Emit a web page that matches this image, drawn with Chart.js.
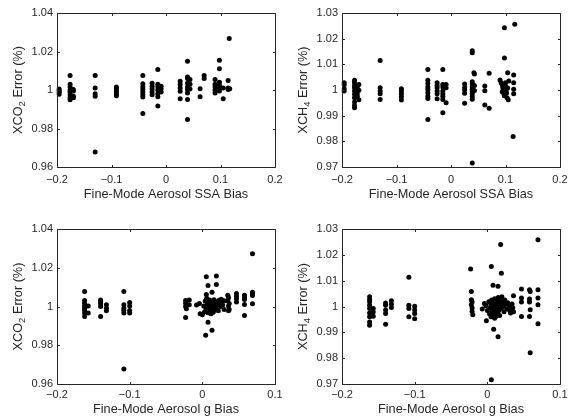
<!DOCTYPE html>
<html><head><meta charset="utf-8">
<script src="https://cdn.jsdelivr.net/npm/chart.js@4.4.1/dist/chart.umd.min.js"></script>
<style>
html,body{margin:0;padding:0;background:#fff}
#wrap{position:relative;width:570px;height:417px;overflow:hidden}
canvas{position:absolute}
</style>
</head><body>
<div id="wrap">
<canvas id="p1" style="left:0;top:0"></canvas>
<canvas id="p2" style="left:285px;top:0"></canvas>
<canvas id="p3" style="left:0;top:210px"></canvas>
<canvas id="p4" style="left:285px;top:210px"></canvas>
</div>
<script>
// ---- tick labels ----
const ssaTicks = [-0.2, -0.1, 0, 0.1, 0.2];
const gTicks = [-0.2, -0.1, 0, 0.1];
const co2Ticks = [0.96, 0.98, 1, 1.02, 1.04];
const ch4Ticks = [0.97, 0.98, 0.99, 1, 1.01, 1.02, 1.03];

// ---- axis titles (main text, subscript, rest) ----
const ssaTitle = 'Fine-Mode Aerosol SSA Bias';
const gTitle = 'Fine-Mode Aerosol g Bias';
const co2Title = ['XCO', '2', ' Error (%)'];
const ch4Title = ['XCH', '4', ' Error (%)'];

// ---- data: [bias, error] ----
const ssaCo2 = [
[-0.196,1.0005],[-0.196,0.9998],[-0.196,0.9988],[-0.196,0.9978],
[-0.176,1.0075],[-0.176,1.003],[-0.176,1.0015],[-0.176,1.0],[-0.176,0.999],[-0.176,0.9975],[-0.176,0.996],[-0.176,0.995],
[-0.170,1.0003],[-0.170,0.9995],[-0.170,0.9968],[-0.170,0.996],
[-0.130,1.0075],[-0.130,1.0011],[-0.130,0.998],[-0.130,0.9968],[-0.130,0.9678],
[-0.091,1.0015],[-0.091,1.0006],[-0.091,0.9994],[-0.091,0.998],[-0.091,0.997],
[-0.0425,1.0075],[-0.0425,1.0032],[-0.0425,1.0016],[-0.0425,1.0002],[-0.0425,0.9989],[-0.0425,0.9977],[-0.0425,0.9963],[-0.0425,0.9878],
[-0.0255,1.0035],[-0.0255,1.002],[-0.0255,1.0005],[-0.0255,0.999],[-0.0255,0.9975],
[-0.015,1.0106],[-0.015,1.003],[-0.015,1.0015],[-0.015,1.0],[-0.015,0.998],[-0.015,0.9965],[-0.015,0.9917],
[-0.009,1.002],[-0.009,1.0005],[-0.009,0.999],
[0.026,1.0046],[0.026,1.0029],[0.026,1.0011],[0.026,0.9994],[0.026,0.9954],
[0.0395,1.015],[0.0395,1.0068],[0.0395,1.006],[0.0395,1.0037],[0.0395,1.0016],[0.0395,1.0002],[0.0395,0.9985],[0.0395,0.9951],[0.0395,0.9847],
[0.044,1.0055],[0.044,1.003],[0.044,1.0005],
[0.0626,1.0006],[0.0626,0.9965],
[0.070,1.0075],[0.070,1.006],
[0.090,1.0055],[0.090,1.003],[0.090,1.0015],[0.090,1.0],[0.090,0.9985],
[0.098,1.0155],[0.098,1.0111],[0.098,1.004],[0.098,1.0025],[0.098,1.001],[0.098,0.9995],
[0.105,1.0011],[0.105,0.9954],
[0.114,1.0049],[0.114,1.0011],[0.114,1.0002],
[0.116,1.0267],[0.117,1.0006]
];

const ssaCh4 = [
[-0.196,1.0028],[-0.196,1.002],[-0.196,1.0005],[-0.196,0.9996],
[-0.177,1.0038],[-0.177,1.0028],[-0.177,1.0018],[-0.177,1.0009],[-0.177,0.9996],[-0.177,0.9983],[-0.177,0.997],[-0.177,0.9953],[-0.177,0.994],[-0.177,0.9931],
[-0.172,1.0012],[-0.172,1.0002],[-0.172,0.9985],[-0.172,0.9976],
[-0.169,1.0021],[-0.169,0.9999],[-0.169,0.9962],
[-0.130,1.0115],[-0.130,1.0009],[-0.130,0.9996],[-0.130,0.9985],[-0.130,0.9963],
[-0.091,1.0005],[-0.091,0.9996],[-0.091,0.9985],[-0.091,0.9974],[-0.091,0.9961],
[-0.0425,1.008],[-0.0425,1.0038],[-0.0425,1.0025],[-0.0425,1.0012],[-0.0425,1.0002],[-0.0425,0.9989],[-0.0425,0.9976],[-0.0425,0.9967],[-0.0425,0.9885],
[-0.0255,1.0028],[-0.0255,1.0018],[-0.0255,1.0009],[-0.0255,0.9996],[-0.0255,0.9985],[-0.0255,0.9966],
[-0.015,1.008],[-0.015,1.0021],[-0.015,1.0012],[-0.015,0.9996],[-0.015,0.9985],[-0.015,0.9976],[-0.015,0.9963],[-0.015,0.9911],
[-0.009,1.0021],[-0.009,1.0009],[-0.009,0.995],
[0.025,1.0023],[0.025,1.001],[0.025,1.0],[0.025,0.9987],[0.025,0.9948],
[0.039,1.0153],[0.039,1.0145],[0.039,1.0032],[0.039,1.0023],[0.039,1.0013],[0.039,1.0003],[0.039,0.9994],[0.039,0.9985],[0.039,0.9975],[0.039,0.9964],[0.039,0.9716],
[0.042,1.0067],[0.043,1.0062],[0.043,1.0018],[0.043,0.9998],
[0.062,1.0016],[0.062,0.9997],[0.062,0.9942],
[0.070,1.0065],[0.070,0.9929],
[0.090,1.0039],[0.092,1.0028],[0.094,1.002],[0.095,1.001],[0.096,1.0002],[0.094,0.9993],[0.097,0.9985],[0.098,0.9978],
[0.100,1.0028],[0.100,1.0015],[0.101,0.9998],[0.102,0.9988],[0.103,0.997],[0.105,0.9962],[0.104,1.0008],[0.106,1.0035],
[0.098,1.0243],[0.098,1.0125],[0.104,1.0067],
[0.115,1.0058],[0.115,1.0028],[0.115,1.0003],[0.115,0.9985],[0.114,0.9819],[0.117,1.0256]
];

const gCo2 = [
[-0.162,1.0078],[-0.162,1.0031],[-0.162,1.0017],[-0.162,1.0003],[-0.162,0.9991],[-0.162,0.9979],[-0.162,0.9966],[-0.162,0.9948],
[-0.157,1.0003],[-0.157,0.9966],
[-0.140,1.0034],[-0.140,1.0026],[-0.140,1.0014],[-0.140,1.0],[-0.140,0.9948],
[-0.132,1.0009],[-0.132,0.9991],[-0.132,0.9978],
[-0.108,1.0078],[-0.108,1.0009],[-0.108,0.9991],[-0.108,0.9979],[-0.108,0.9966],[-0.108,0.9678],
[-0.100,1.0021],[-0.100,1.0003],[-0.100,0.9979],[-0.100,0.9966],
[-0.023,1.0031],[-0.023,1.0017],[-0.023,1.0],[-0.022,0.9988],[-0.023,0.9943],
[-0.018,1.0034],[-0.018,1.0009],
[0.0055,1.0154],[0.0193,1.0157],[0.0078,1.0109],[0.0193,1.0114],[0.0133,1.0074],[0.0055,1.0062],
[0.0078,0.9919],[0.0133,0.9878],[0.0046,0.9851],
[-0.008,1.0008],[-0.004,1.0016],[-0.003,0.9962],[0.000,0.9958],[0.002,1.0003],[0.003,0.9972],[0.004,1.0028],[0.005,0.9988],
[0.006,1.0042],[0.006,0.9995],[0.007,1.0012],[0.007,0.9978],[0.008,1.0022],[0.008,0.9968],[0.009,1.0005],[0.009,0.9985],
[0.010,1.0034],[0.010,0.9992],[0.011,1.0015],[0.011,0.9975],[0.012,1.0001],[0.012,0.9962],[0.013,1.0026],[0.013,0.9988],
[0.014,1.0008],[0.015,0.9996],[0.015,0.9970],[0.016,1.0035],[0.017,1.0018],[0.017,0.9982],[0.018,1.0003],[0.019,0.9990],
[0.020,1.0025],[0.021,1.0010],[0.022,0.9978],[0.023,1.0032],[0.024,1.0015],[0.025,1.0000],[0.026,1.0038],[0.027,1.0022],
[0.028,1.0008],[0.030,1.0030],[0.030,0.9985],
[0.035,1.0058],[0.036,1.0045],[0.035,1.003],[0.037,1.0016],[0.036,1.0002],[0.037,0.9985],[0.036,0.9978],
[0.047,1.0067],[0.047,1.0053],[0.047,1.004],[0.047,1.0023],
[0.058,1.0058],[0.058,1.0045],[0.058,1.0036],[0.058,1.001],[0.058,0.9953],
[0.069,1.0272],[0.069,1.0074],[0.069,1.0064],[0.069,1.0057],[0.069,1.0014]
];

const gCh4 = [
[-0.162,1.0038],[-0.162,1.0027],[-0.162,1.0018],[-0.162,1.0005],[-0.162,0.9992],[-0.162,0.9975],[-0.162,0.996],[-0.162,0.994],[-0.162,0.9927],
[-0.157,0.9992],[-0.157,0.9979],[-0.157,0.9962],
[-0.140,1.0014],[-0.140,1.0005],[-0.140,0.9986],[-0.140,0.9973],[-0.140,0.9931],
[-0.132,1.0022],[-0.132,1.0009],[-0.132,0.9996],
[-0.108,1.0113],[-0.108,1.0005],[-0.108,0.9992],[-0.108,0.996],
[-0.100,1.0001],[-0.100,0.9986],[-0.100,0.9973],[-0.100,0.9953],
[-0.023,1.0145],[-0.022,1.0058],[-0.022,1.0026],[-0.021,1.0017],[-0.022,1.0007],[-0.021,0.9994],[-0.021,0.9981],[-0.020,0.9968],
[-0.007,0.999],
[0.0055,1.0155],[0.0183,1.024],[0.0193,1.0129],[0.0078,1.0082],[0.0147,1.0078],[0.0087,0.9912],[0.0147,0.9883],[0.0055,0.9716],[-0.0013,0.9945],
[-0.004,1.0012],[-0.002,1.0003],[0.000,0.9985],[0.002,1.0018],[0.003,0.9972],[0.004,0.9995],[0.005,1.0008],[0.005,0.9960],
[0.006,1.0025],[0.007,0.9982],[0.008,1.0002],[0.008,0.9968],[0.009,1.0015],[0.009,0.9990],[0.010,0.9955],[0.010,1.0030],
[0.011,0.9978],[0.012,1.0008],[0.012,0.9962],[0.013,1.0020],[0.013,0.9995],[0.014,0.9972],[0.015,1.0035],[0.015,1.0005],
[0.016,0.9985],[0.017,1.0022],[0.017,0.9965],[0.018,1.0010],[0.019,0.9992],[0.020,1.0038],[0.021,1.0018],[0.022,1.0000],
[0.023,0.9980],[0.024,1.0025],[0.025,1.0010],[0.027,0.9990],[0.028,1.0015],[0.030,1.0002],[0.031,0.9985],[0.032,0.9975],
[0.034,1.0010],[0.035,0.9995],[0.036,1.0042],[0.036,0.998],
[0.047,1.0068],[0.047,1.0033],[0.047,1.0017],[0.047,0.9961],
[0.058,1.0065],[0.059,1.0058],[0.058,1.0029],[0.058,1.0017],[0.059,0.9987],[0.058,0.9961],[0.059,0.9821],
[0.0697,1.0258],[0.0697,1.0065],[0.0697,1.0033],[0.0697,1.0007],[0.0697,0.9933]
];

// ---- rendering ----
const INK = '#262626';
const FAMILY = '"Liberation Sans", Arial, Helvetica, sans-serif';
Chart.defaults.font.family = FAMILY;
Chart.defaults.color = INK;

function fmt(v) {
  const r = +v.toFixed(4);
  if (Math.abs(r) < 1e-9) return '0';
  return String(r).replace('-', '\u2212');
}

const boxPlugin = {
  id: 'matlabBox',
  afterDatasetsDraw(chart) {
    const {ctx, chartArea: a, scales: {x, y}} = chart;
    const L = Math.round(a.left) + 0.5, R = Math.round(a.right) + 0.5;
    const T = Math.round(a.top) + 0.5, B = Math.round(a.bottom) + 0.5;
    const tl = 2.5;
    ctx.save();
    ctx.strokeStyle = INK;
    ctx.lineWidth = 1;
    ctx.beginPath();
    ctx.rect(L, T, R - L, B - T);
    x.ticks.forEach(t => {
      const px = Math.round(x.getPixelForValue(t.value)) + 0.5;
      ctx.moveTo(px, B); ctx.lineTo(px, B - tl);
      ctx.moveTo(px, T); ctx.lineTo(px, T + tl);
    });
    y.ticks.forEach(t => {
      const py = Math.round(y.getPixelForValue(t.value)) + 0.5;
      ctx.moveTo(L, py); ctx.lineTo(L + tl, py);
      ctx.moveTo(R, py); ctx.lineTo(R - tl, py);
    });
    ctx.stroke();
    ctx.restore();
  }
};

// rotated y-axis title with a real subscript
const yTitlePlugin = {
  id: 'yTitleSub',
  afterDraw(chart, args, opts) {
    const parts = opts.parts;
    if (!parts) return;
    const {ctx, chartArea: a} = chart;
    const main = '12.7px ' + FAMILY, sub = '9.5px ' + FAMILY;
    ctx.save();
    ctx.font = main; const w0 = ctx.measureText(parts[0]).width;
    const w2 = ctx.measureText(parts[2]).width;
    ctx.font = sub; const w1 = ctx.measureText(parts[1]).width;
    const total = w0 + w1 + w2;
    const cy = (a.top + a.bottom) / 2;
    ctx.translate(opts.x, cy);
    ctx.rotate(-Math.PI / 2);
    ctx.fillStyle = INK;
    ctx.textBaseline = 'alphabetic';
    ctx.textAlign = 'left';
    let u = -total / 2;
    const base = 4.5;
    ctx.font = main; ctx.fillText(parts[0], u, base); u += w0;
    ctx.font = sub; ctx.fillText(parts[1], u, base + 3); u += w1;
    ctx.font = main; ctx.fillText(parts[2], u, base);
    ctx.restore();
  }
};

function makePanel(id, points, xTicks, yTicks, xTitle, yTitle, g) {
  const cv = document.getElementById(id);
  cv.width = 285; cv.height = g.h;
  cv.style.width = '285px'; cv.style.height = g.h + 'px';
  new Chart(cv, {
    type: 'scatter',
    data: { datasets: [{
      data: points.map(p => ({x: p[0], y: p[1]})),
      backgroundColor: '#000', borderWidth: 0, pointRadius: 2.5,
      pointHoverRadius: 2.5, clip: false
    }]},
    options: {
      responsive: false, animation: false,
      layout: { padding: { top: g.padTop, right: 10, left: 0, bottom: 0 } },
      plugins: { legend: {display: false}, tooltip: {enabled: false}, yTitleSub: { parts: yTitle, x: 17 } },
      events: [],
      scales: {
        x: {
          type: 'linear', min: xTicks[0], max: xTicks[xTicks.length - 1],
          afterBuildTicks: s => { s.ticks = xTicks.map(v => ({value: v})); },
          afterFit: s => { s.height = g.xh; s.paddingLeft = 0; s.paddingRight = 0; },
          grid: {display: false, drawTicks: false}, border: {display: false},
          ticks: { padding: g.xTickPad, autoSkip: false, maxRotation: 0, font: {size: 11}, color: INK, callback: v => fmt(v) },
          title: { display: true, text: xTitle, color: INK, font: {size: 12.7}, padding: {top: 0, bottom: g.xTitlePad} }
        },
        y: {
          type: 'linear', min: yTicks[0], max: yTicks[yTicks.length - 1],
          afterBuildTicks: s => { s.ticks = yTicks.map(v => ({value: v})); },
          afterFit: s => { s.width = 57; s.paddingTop = 0; s.paddingBottom = 0; },
          grid: {display: false, drawTicks: false}, border: {display: false},
          ticks: { padding: 4, autoSkip: false, font: {size: 11}, color: INK, callback: v => fmt(v) },
          title: { display: false }
        }
      }
    },
    plugins: [boxPlugin, yTitlePlugin]
  });
}

const topRow = { h: 210, padTop: 13, xh: 43, xTickPad: 6, xTitlePad: 7.5 };
const botRow = { h: 207, padTop: 19, xh: 33, xTickPad: 4.5, xTitlePad: 0 };
makePanel('p1', ssaCo2, ssaTicks, co2Ticks, ssaTitle, co2Title, topRow);
makePanel('p2', ssaCh4, ssaTicks, ch4Ticks, ssaTitle, ch4Title, topRow);
makePanel('p3', gCo2, gTicks, co2Ticks, gTitle, co2Title, botRow);
makePanel('p4', gCh4, gTicks, ch4Ticks, gTitle, ch4Title, botRow);
</script>
</body></html>
